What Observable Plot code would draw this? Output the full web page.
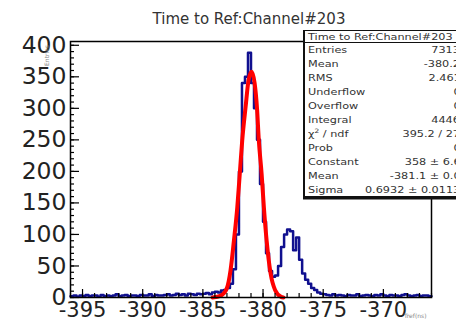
<!DOCTYPE html>
<html>
<head>
<meta charset="utf-8">
<script src="https://cdn.jsdelivr.net/npm/d3@7"></script>
<script src="https://cdn.jsdelivr.net/npm/@observablehq/plot@0.6"></script>
<style>
  html, body { margin: 0; padding: 0; background: #fff; overflow: hidden; }
  #wrap { position: relative; width: 456px; height: 321px; overflow: hidden; background: #fff; }
  #title { position: absolute; top: 10px; left: 249px; transform: translateX(-50%);
           font: 15px "DejaVu Sans", sans-serif; color: #333; white-space: nowrap; }
  #stats { position: absolute; left: 303px; top: 30px; width: 162px; height: 167px; box-sizing: border-box;
           border: 1.5px solid #111; border-left-width: 2.5px; background: #fff; box-shadow: 0 2.5px 0 #111; }
  #stats .hdr { position: absolute; left: 0; right: 0; top: 0; height: 11px; border-bottom: 1.2px solid #111; }
  #stats .row { position: absolute; left: 0; right: 0; height: 10px; }
  #stats .lab, #stats .val { position: absolute; top: 0; font: 9px/10px "DejaVu Sans", sans-serif; color: #333; white-space: nowrap; }
  #stats .lab { left: 2.5px; transform: scaleX(1.25); transform-origin: left center; }
  #stats .val { right: 3.7px; transform: scaleX(1.25); transform-origin: right center; }
  .small { position: absolute; font: 6px "DejaVu Sans", sans-serif; color: #888; white-space: nowrap; }
</style>
</head>
<body>
<div id="wrap"></div>
<script>
// ---- data ----
const titleText = "Time to Ref:Channel#203";
const histStart = -396;      // lower edge of first bin
const histBinWidth = 0.25;   // bin width
const histCounts = [
  2,3,1,3,2,4,2,3,3,1,4,2,3,2,3,5,2,3,4,2,3,3,2,4,3,3,5,2,4,3,3,4,5,3,4,6,4,5,3,6,5,4,6,5,
  6,7,5,8,9,8,11,12,
  15,22,45,100,200,340,350,388,340,300,250,180,120,70,42,33,
  35,50,80,100,108,105,75,95,60,38,28,22,15,12,8,6,
  5,4,3,5,3,4,3,2,4,3,3,5,2,3,4,3,2,4,3,5,3,2,4,3,3,2,4,5,3,2,3,4,2,3,3,2
];
const fitX = [-384.2,-383.5,-383.0,-382.7,-382.42,-382.14,-381.93,-381.73,-381.45,-381.2,-380.95,-380.7,-380.5,-380.35,-380.12,-379.93,-379.7,-379.37,-379.0,-378.5,-378.3];
const fitY = [0,3,15,43,90,143,197,249,302,345,358,340,300,249,197,143,90,38,12,1,0];
const xMajorTicks = [-395,-390,-385,-380,-375,-370];
const xMinorTicks = d3.range(-396, -365, 1);
const yMajorTicks = [0,50,100,150,200,250,300,350,400];
const yMinorTicks = d3.range(0, 406, 10);
const statLabels = ["Entries","Mean","RMS","Underflow","Overflow","Integral","χ<sup style='font-size:6px;line-height:0'>2</sup> / ndf","Prob","Constant","Mean","Sigma"];
const statValues = ["7313","-380.2","2.461","0","0","4446","395.2 / 27","0","358 ± 6.6","-381.1 ± 0.0","0.6932 ± 0.0113"];

// ---- build tables ----
const histPts = histCounts.map((c, i) => ({x: histStart + i * histBinWidth, y: c}));
histPts.push({x: histStart + histCounts.length * histBinWidth, y: histCounts[histCounts.length - 1]});
const fitPts = fitX.map((x, i) => ({x, y: fitY[i]}));

const blue = "#10108f";
const chart = Plot.plot({
  width: 456, height: 321,
  marginLeft: 70, marginRight: 25, marginTop: 41, marginBottom: 24,
  style: {fontFamily: "DejaVu Sans", color: "#000", background: "white", overflow: "visible"},
  x: {domain: [-396, -366]},
  y: {domain: [0, 406]},
  marks: [
    Plot.line(histPts, {x: "x", y: "y", curve: "step-after", stroke: blue, strokeWidth: 2.5}),
    Plot.line(fitPts, {x: "x", y: "y", curve: "monotone-x", stroke: "#ff0000", strokeWidth: 4}),
    Plot.axisX(xMinorTicks, {tickSize: -4, fill: "none", label: null, stroke: "#000", strokeWidth: 1.2}),
    Plot.axisX(xMajorTicks, {tickSize: -8, fill: "none", label: null, stroke: "#000", strokeWidth: 1.2}),
    Plot.axisX(xMajorTicks, {tickSize: 0, tickPadding: 5, fontSize: 21, fill: "#222", label: null, tickFormat: d => String(d)}),
    Plot.axisY(yMinorTicks, {tickSize: -4, fill: "none", label: null, stroke: "#000", strokeWidth: 1.2}),
    Plot.axisY(yMajorTicks, {tickSize: -9, fill: "none", label: null, stroke: "#000", strokeWidth: 1.2}),
    Plot.axisY(yMajorTicks, {tickSize: 0, tickPadding: 4, fontSize: 23.5, fill: "#222", label: null, tickFormat: d => String(d)}),
    Plot.frame({stroke: "#000", strokeWidth: 1.5})
  ]
});

const wrap = document.getElementById("wrap");
wrap.appendChild(chart);

const t = document.createElement("div");
t.id = "title"; t.textContent = titleText;
wrap.appendChild(t);

const ytitle = document.createElement("div");
ytitle.className = "small";
ytitle.style.left = "36px"; ytitle.style.top = "52px";
ytitle.style.transform = "rotate(-90deg)";
ytitle.textContent = "Entries";
wrap.appendChild(ytitle);

const xtitle = document.createElement("div");
xtitle.className = "small";
xtitle.style.left = "404px"; xtitle.style.top = "312px";
xtitle.textContent = "Tref(ns)";
wrap.appendChild(xtitle);

const s = document.createElement("div");
s.id = "stats";
let html = `<div class="hdr"><span class="lab" style="top:0.5px">${titleText}</span></div>`;
statLabels.forEach((lab, i) => {
  const top = 50 + i * 14.07 - 31.5 - 5;
  html += `<div class="row" style="top:${top}px"><span class="lab">${lab}</span><span class="val">${statValues[i]}</span></div>`;
});
s.innerHTML = html;
wrap.appendChild(s);
</script>
</body>
</html>
